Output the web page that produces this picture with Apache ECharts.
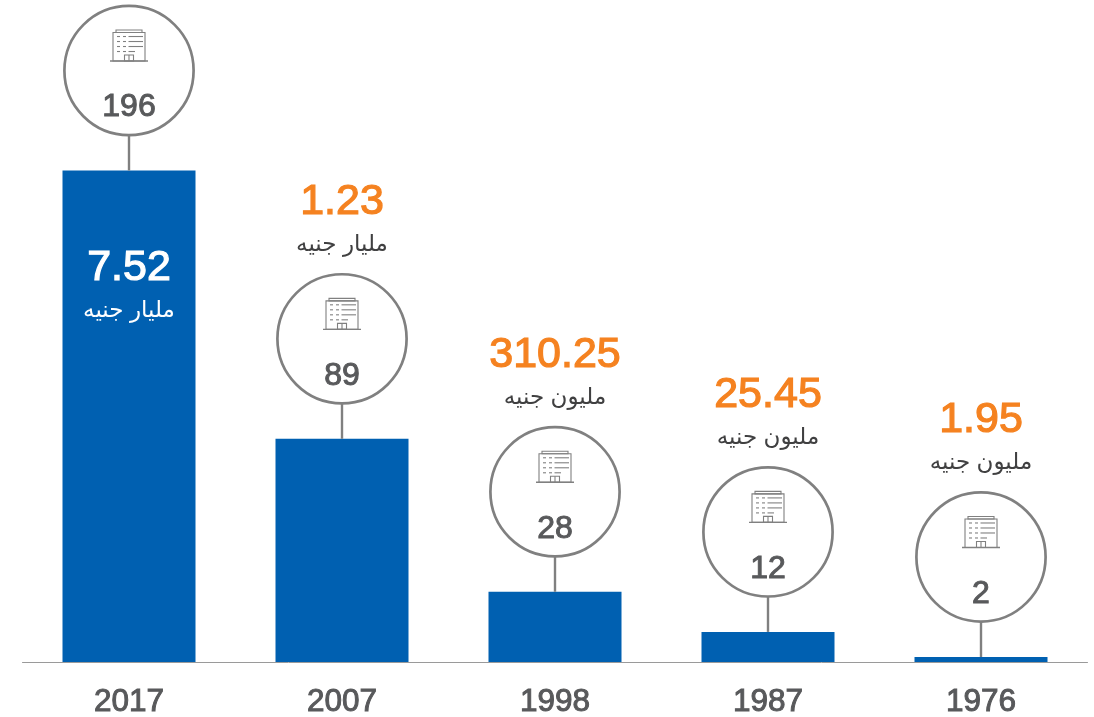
<!DOCTYPE html>
<html>
<head>
<meta charset="utf-8">
<style>
  html, body { margin: 0; padding: 0; background: #fff; }
  #main { width: 1094px; height: 717px; }
</style>
<script src="https://cdn.jsdelivr.net/npm/echarts@6/dist/echarts.min.js"></script>
</head>
<body>
<div id="main"></div>
<script>
// data
const years = ['2017', '2007', '1998', '1987', '1976']
const companies = [196, 89, 28, 12, 2]
const capital = ['7.52', '1.23', '310.25', '25.45', '1.95']
const units = ['مليار جنيه', 'مليار جنيه', 'مليون جنيه', 'مليون جنيه', 'مليون جنيه']

const font = '"Liberation Sans", "DejaVu Sans", sans-serif'
const grey = '#58595b'
const lineGrey = '#808080'
const orange = '#f58220'

// small building icon, x/y is the centre of the circle
function buildingIcon(x, y) {
  const style = { stroke: lineGrey, lineWidth: 1.1, fill: 'none' }
  const seg = (x1, y1, x2, y2, s) => ({
    type: 'line',
    shape: { x1: x + x1, y1: y + y1, x2: x + x2, y2: y + y2 },
    style: s || style
  })
  const items = [
    { type: 'rect', shape: { x: x - 16, y: y - 38, width: 32, height: 28.5 }, style },
    { type: 'rect', shape: { x: x - 13, y: y - 40.5, width: 26, height: 2.5 }, style },
    { type: 'rect', shape: { x: x - 4.5, y: y - 15.5, width: 9, height: 6 }, style },
    seg(0, -15.5, 0, -9.5),
    seg(-19, -9.5, 19, -9.5, { stroke: lineGrey, lineWidth: 1.4 })
  ]
  for (let i = 0; i < 4; i++) {
    const rowY = -34 + i * 5
    items.push(seg(-12, rowY, -9, rowY))
    items.push(seg(-6, rowY, -3, rowY))
    items.push(seg(-0.5, rowY, i > 2 ? 6 : 14, rowY))
  }
  return items
}

function renderMarker(params, api) {
  const i = params.dataIndex
  const top = api.coord([i, api.value(1)])
  const x = top[0]
  const cy = top[1] - 100
  const inside = i === 0
  const capY = inside ? top[1] + 98 : cy - 137
  const unitY = inside ? top[1] + 140 : cy - 94.5
  return {
    type: 'group',
    children: [
      {
        type: 'line',
        shape: { x1: x, y1: cy + 65, x2: x, y2: top[1] },
        style: { stroke: lineGrey, lineWidth: 2.4 }
      },
      {
        type: 'circle',
        shape: { cx: x, cy: cy, r: 64.6 },
        style: { stroke: lineGrey, lineWidth: 2.7, fill: '#fff' }
      },
      ...buildingIcon(x, cy),
      {
        type: 'text',
        style: {
          x: x, y: cy + 37, text: String(companies[i]),
          font: '32px ' + font, fill: grey, stroke: grey, lineWidth: 1,
          align: 'center', verticalAlign: 'middle'
        }
      },
      {
        type: 'text',
        style: {
          x: x, y: capY, text: capital[i],
          font: '43px ' + font, fill: inside ? '#fff' : orange,
          stroke: inside ? '#fff' : orange, lineWidth: 1.2,
          align: 'center', verticalAlign: 'middle'
        }
      },
      {
        type: 'text',
        style: {
          x: x, y: unitY, text: units[i],
          font: '23px ' + font, fill: inside ? '#fff' : '#404041',
          align: 'center', verticalAlign: 'middle'
        }
      }
    ]
  }
}

const chart = echarts.init(document.getElementById('main'), null, { renderer: 'canvas' })
chart.setOption({
  animation: false,
  grid: { left: 22.5, right: 6.5, top: 0, bottom: 55, outerBoundsMode: 'none' },
  xAxis: {
    type: 'category',
    data: years,
    axisLine: { lineStyle: { color: '#9a9a9a', width: 1 } },
    axisTick: { show: false },
    axisLabel: {
      color: grey, fontFamily: font, fontSize: 31.5, margin: 24,
      textBorderColor: grey, textBorderWidth: 1
    }
  },
  yAxis: { type: 'value', min: 0, max: 264, show: false },
  series: [
    {
      type: 'bar',
      z: 2,
      data: companies,
      barWidth: 133,
      itemStyle: { color: '#0060b1' }
    },
    {
      type: 'custom',
      z: 5,
      data: companies.map((v, i) => [i, v]),
      encode: { x: 0, y: 1 },
      clip: false,
      renderItem: renderMarker
    }
  ]
})
</script>
</body>
</html>
